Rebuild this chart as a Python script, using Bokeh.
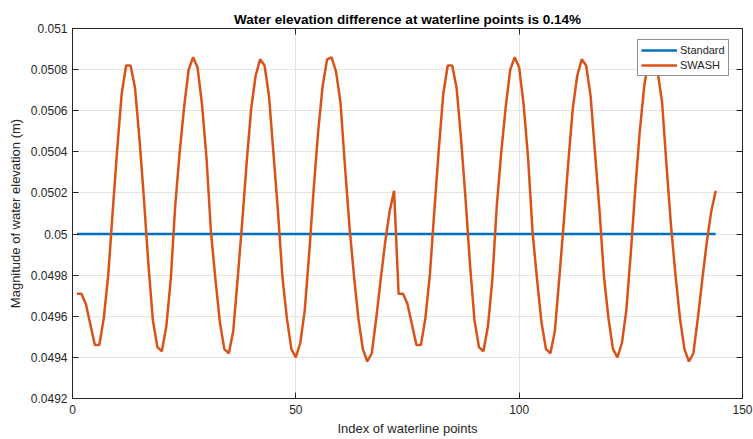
from bokeh.plotting import figure
from bokeh.models import (Legend, LegendItem, LinearAxis, FixedTicker, Range1d,
                          CustomJSTickFormatter)
from bokeh.embed import file_html
from bokeh.resources import INLINE

# ---- data ----
title_text = "Water elevation difference at waterline points is 0.14%"
x_label = "Index of waterline points"
y_label = "Magnitude of water elevation (m)"

x_ticks = [0, 50, 100, 150]
y_ticks = [0.0492, 0.0494, 0.0496, 0.0498, 0.05, 0.0502, 0.0504, 0.0506, 0.0508, 0.051]
y_tick_labels = ["0.0492", "0.0494", "0.0496", "0.0498", "0.05",
                 "0.0502", "0.0504", "0.0506", "0.0508", "0.051"]

standard_x = [1, 144]
standard_y = [0.05, 0.05]

swash_first = [
    0.04971, 0.04971, 0.04966, 0.04956, 0.04946, 0.04946, 0.04959, 0.04980, 0.05011, 0.05041,
    0.05068, 0.05082, 0.05082, 0.05071, 0.05046, 0.05017, 0.04985, 0.04958, 0.04945, 0.04943,
    0.04955, 0.04978, 0.05014, 0.05040, 0.05062, 0.05080, 0.05086, 0.05081, 0.05063, 0.05037,
    0.05001, 0.04978, 0.04957, 0.04944, 0.04942, 0.04953, 0.04979, 0.05006, 0.05035, 0.05061,
    0.05077, 0.05085, 0.05082, 0.05067, 0.05039, 0.05011, 0.04979, 0.04959, 0.04944, 0.04940,
    0.04947, 0.04963, 0.04991, 0.05022, 0.05050, 0.05072, 0.05085, 0.05086, 0.05079, 0.05064,
    0.05033, 0.05004, 0.04980, 0.04959, 0.04944, 0.04938, 0.04942, 0.04959, 0.04978, 0.04996,
    0.05011, 0.05021,
]
swash_second = [
    0.04971, 0.04971, 0.04966, 0.04956, 0.04946, 0.04946, 0.04959, 0.04980, 0.05011, 0.05041,
    0.05068, 0.05082, 0.05082, 0.05071, 0.05046, 0.05017, 0.04985, 0.04958, 0.04945, 0.04943,
    0.04955, 0.04978, 0.05014, 0.05040, 0.05062, 0.05080, 0.05086, 0.05081, 0.05063, 0.05037,
    0.05001, 0.04978, 0.04957, 0.04944, 0.04942, 0.04953, 0.04979, 0.05006, 0.05035, 0.05061,
    0.05077, 0.05085, 0.05082, 0.05067, 0.05039, 0.05011, 0.04979, 0.04959, 0.04944, 0.04940,
    0.04947, 0.04963, 0.04991, 0.05022, 0.05050, 0.05072, 0.05085, 0.05086, 0.05079, 0.05064,
    0.05033, 0.05004, 0.04980, 0.04959, 0.04944, 0.04938, 0.04942, 0.04959, 0.04978, 0.04996,
    0.05011, 0.05021,
]
swash_y = swash_first + swash_second
swash_x = list(range(1, len(swash_y) + 1))

# ---- styling ----
FONT = "Liberation Sans"
AX = "#262626"
GRID = "#e3e3e3"
BLUE = "#0072BD"
ORANGE = "#D95319"

p = figure(width=753, height=439, output_backend="svg", toolbar_location=None,
           x_range=Range1d(0, 150), y_range=Range1d(0.0492, 0.051),
           min_border_left=72, min_border_right=11, min_border_top=28, min_border_bottom=41)
p.background_fill_color = "white"
p.border_fill_color = "white"
p.outline_line_color = AX
p.outline_line_width = 1

p.title.text = title_text
p.title.align = "center"
p.title.text_font = FONT
p.title.text_font_size = "13.5px"
p.title.text_font_style = "bold"
p.title.text_color = "#000000"
p.title.standoff = 3

for ax in (p.xaxis[0], p.yaxis[0]):
    ax.axis_line_color = AX
    ax.major_tick_line_color = AX
    ax.major_tick_in = 6
    ax.major_tick_out = 0
    ax.minor_tick_line_color = None
    ax.major_label_text_font = FONT
    ax.major_label_text_font_size = "12px"
    ax.major_label_text_color = AX
    ax.axis_label_text_font = FONT
    ax.axis_label_text_font_size = "13px"
    ax.axis_label_text_font_style = "normal"
    ax.axis_label_text_color = AX

p.xaxis[0].ticker = FixedTicker(ticks=x_ticks)
p.yaxis[0].ticker = FixedTicker(ticks=y_ticks)
p.yaxis[0].major_label_overrides = dict(zip(y_ticks, y_tick_labels))
p.xaxis[0].axis_label = x_label
p.yaxis[0].axis_label = y_label
p.xaxis[0].major_label_standoff = 6
p.xaxis[0].axis_label_standoff = 4
p.yaxis[0].major_label_standoff = 5
p.yaxis[0].axis_label_standoff = 5

# box ticks on top and right (no labels)
blank = CustomJSTickFormatter(code="return '';")
top_ax = LinearAxis(ticker=FixedTicker(ticks=x_ticks), formatter=blank,
                    major_tick_in=6, major_tick_out=0, minor_tick_line_color=None,
                    axis_line_color=AX, major_tick_line_color=AX, major_label_standoff=0)
right_ax = LinearAxis(ticker=FixedTicker(ticks=y_ticks), formatter=blank,
                      major_tick_in=6, major_tick_out=0, minor_tick_line_color=None,
                      axis_line_color=AX, major_tick_line_color=AX, major_label_standoff=0)
p.add_layout(top_ax, "above")
p.add_layout(right_ax, "right")

p.xgrid.grid_line_color = GRID
p.ygrid.grid_line_color = GRID
p.xgrid.ticker = FixedTicker(ticks=x_ticks)
p.ygrid.ticker = FixedTicker(ticks=y_ticks)

r_std = p.line(standard_x, standard_y, line_color=BLUE, line_width=2.5)
r_sw = p.line(swash_x, swash_y, line_color=ORANGE, line_width=2.5)

legend = Legend(items=[LegendItem(label="Standard", renderers=[r_std]),
                       LegendItem(label="SWASH", renderers=[r_sw])],
                location=(565, 322), margin=0, padding=3, spacing=1,
                glyph_width=36, glyph_height=14, label_height=14, label_standoff=3,
                label_text_font=FONT, label_text_font_size="11px", label_text_color=AX,
                border_line_color=AX, border_line_width=1,
                background_fill_color="white", background_fill_alpha=1)
p.add_layout(legend, "center")

open("out.html", "w").write(file_html(p, INLINE))
